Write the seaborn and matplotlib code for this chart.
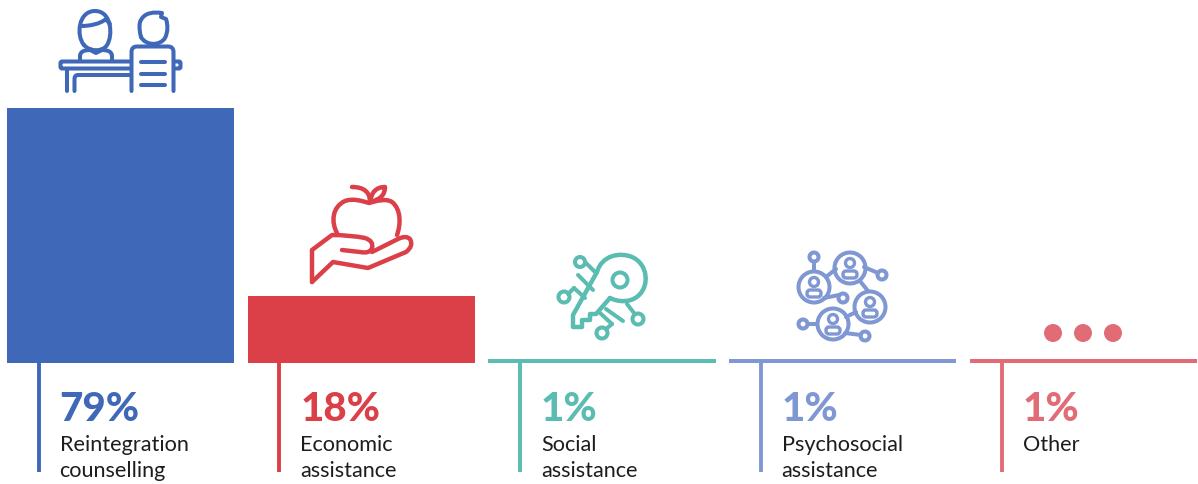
import re
import pandas as pd
import matplotlib
matplotlib.use("Agg")
import matplotlib.pyplot as plt
from matplotlib.path import Path
from matplotlib.patches import PathPatch, Circle, FancyBboxPatch
import seaborn as sns

categories = ["Reintegration\ncounselling", "Economic\nassistance", "Social\nassistance",
              "Psychosocial\nassistance", "Other"]
pct_labels = ["79%", "18%", "1%", "1%", "1%"]
# heights as drawn in the picture (the 18% bar is drawn taller than its label)
bar_heights = [79, 20.8, 1.3, 1.3, 1.3]
colors = ["#4068B8", "#DB4049", "#5BBCB1", "#7F97D3", "#E26C76"]

W, H = 1198, 484
BASE_Y = 363
PX_PER_UNIT = 255 / 79
CENTER0, STEP = 120.5, 240.75

sns.set_theme(style="white")
plt.rcParams["font.family"] = ["Lato", "DejaVu Sans"]

fig = plt.figure(figsize=(W / 100, H / 100), dpi=100, facecolor="white")
ax = fig.add_axes([0, 0, 1, 1])

df = pd.DataFrame({"category": categories, "height": bar_heights})
sns.barplot(data=df, x="category", y="height", hue="category", palette=colors,
            width=0.943, saturation=1, legend=False, linewidth=0, ax=ax)
ax.set_xlim(-CENTER0 / STEP, (W - CENTER0) / STEP)
ax.set_ylim(-(H - BASE_Y) / PX_PER_UNIT, BASE_Y / PX_PER_UNIT)
ax.axis("off")

# overlay in picture pixels for stems, labels and the icons
ov = fig.add_axes([0, 0, 1, 1], facecolor="none")
ov.set_xlim(0, W)
ov.set_ylim(H, 0)
ov.axis("off")

LW = 2.9


def svg(d):
    # small path parser, absolute M L Q C Z only
    tok = re.findall(r"[MLQCZ]|-?[\d.]+", d)
    verts, codes, i = [], [], 0
    n = {"M": 1, "L": 1, "Q": 2, "C": 3}
    kind = {"M": [Path.MOVETO], "L": [Path.LINETO], "Q": [Path.CURVE3] * 2, "C": [Path.CURVE4] * 3}
    while i < len(tok):
        t = tok[i]
        i += 1
        if t == "Z":
            verts.append((0, 0))
            codes.append(Path.CLOSEPOLY)
            continue
        for _ in range(n[t]):
            verts.append((float(tok[i]), float(tok[i + 1])))
            i += 2
        codes += kind[t]
    return Path(verts, codes)


def stroke(d, c, lw=LW):
    ov.add_patch(PathPatch(svg(d), fill=False, ec=c, lw=lw, capstyle="round", joinstyle="round"))


def ring(x, y, r, c, lw=LW):
    ov.add_patch(Circle((x, y), r, fill=False, ec=c, lw=lw))


# stems and texts
for i, (cat, pct, c) in enumerate(zip(categories, pct_labels, colors)):
    cx = CENTER0 + STEP * i
    ov.plot([cx - 82, cx - 82], [BASE_Y, 472], color=c, lw=2.8, solid_capstyle="butt")
    ov.text(cx - 61, 421, pct, color=c, fontsize=29, fontweight="black", ha="left", va="baseline")
    for j, line in enumerate(cat.split("\n")):
        ov.text(cx - 61, 451 + 26 * j, line, color="#1D1D1B", fontsize=15.6, ha="left", va="baseline")

# icon 1: two people at a desk
c = colors[0]
stroke("M 84 45 C 76 36 78 11 95 11 C 112 11 113 36 107 45 C 103 52 90 52 84 45", c)
stroke("M 81 26 C 90 26 100 24 106 19 Q 108 22 110 24", c)
stroke("M 90 49 L 90 50 Q 80 50 80 56 L 80 61 M 102 49 L 102 50 Q 112 50 112 56 L 112 61", c)
stroke("M 90 50 L 96 53 L 102 50", c)
stroke("M 131 61.5 L 62 61.5 Q 60.5 61.5 60.5 63 L 60.5 67 Q 60.5 68.5 62 68.5 L 131 68.5", c)
stroke("M 174 61.5 L 179 61.5 Q 180.5 61.5 180.5 63 L 180.5 67 Q 180.5 68.5 179 68.5 L 174 68.5", c)
stroke("M 67 69 L 67 91 M 74.5 91 L 74.5 79 Q 74.5 75 78 75 L 131 75", c)
stroke("M 131.5 91 L 131.5 52 Q 131.5 46.5 137 46.5 L 168 46.5 Q 173.5 46.5 173.5 52 L 173.5 91", c)
stroke("M 141 62 L 165 62 M 141 73.5 L 165 73.5 M 141 85 L 165 85", c)
stroke("M 141 37 C 139 30 139 22 141 20 C 145 12 155 12 162 13 L 161 17 L 166 19 "
       "C 168 25 168 32 165 38 C 160 46 146 46 141 37", c)

# icon 2: apple in a hand
c = colors[1]
stroke("M 337 233 C 331 222 332 207 345 201 C 353 198 362 201 369 203 C 376 201 386 198 392 202 "
       "C 401 209 401 224 397 235", c, lw=3.2)
stroke("M 370 202 Q 370 187 352 187", c, lw=3.2)
stroke("M 370 202 Q 372 187 385 187 Q 385 199 370 202", c, lw=3.2)
stroke("M 312 282 L 312 250 L 332 235 Q 350 235 365 238 Q 374 241 372 248 Q 370 254 360 252 L 342 250", c, lw=3.2)
stroke("M 312 282 L 333 262 L 368 268 L 406 252 Q 414 246 410 239 Q 406 235 398 239 L 372 252", c, lw=3.2)

# icon 3: key with circuit
c = colors[2]
ring(620, 280, 7.5, c)
stroke("M 597 272 C 602 255 620 252 632 257 C 648 264 650 286 638 296 C 630 303 618 302 610 298", c, lw=3.2)
stroke("M 597 272 L 573 315 L 573 327 L 582 327 L 582 320 L 590 320 L 590 314 L 596 314 L 610 298", c, lw=3.2)
stroke("M 578 275 L 593 290 M 596 273 L 585 262 M 574 288 L 585 298 M 574 288 L 568 294", c)
stroke("M 606 309 L 623 321 M 627 304 L 634 313 M 612 324 L 600 313 M 612 324 L 606 329", c)
ring(580, 262, 5, c)
ring(564, 297, 5.5, c)
ring(638, 319, 5.5, c)
ring(602, 333, 5.5, c)

# icon 4: network of people
c = colors[3]
for x, y in [(850, 268), (814, 287), (870, 307), (833, 324)]:
    ring(x, y, 15.5, c)
    ring(x, y - 5, 4.5, c, lw=2.4)
    ov.add_patch(FancyBboxPatch((x - 7, y + 3), 14, 7, boxstyle="round,pad=0,rounding_size=3",
                                fill=False, ec=c, lw=2.4))
for x, y in [(814, 257), (882, 275), (843, 298), (803, 324), (865, 336)]:
    ring(x, y, 4.5, c)
stroke("M 814 262 L 814 271 M 826 277 L 836 269 M 864 267 L 878 273 M 824 298 L 839 295", c)
stroke("M 860 281 L 868 291 M 846 317 L 856 312 M 808 324 L 817 324 M 845 333 L 861 335", c)

# icon 5: three dots for Other
for x in [1053, 1083, 1113]:
    ov.add_patch(Circle((x, 333), 9, fc=colors[4], ec="none"))

fig.savefig("out.png", dpi=100, facecolor="white")
